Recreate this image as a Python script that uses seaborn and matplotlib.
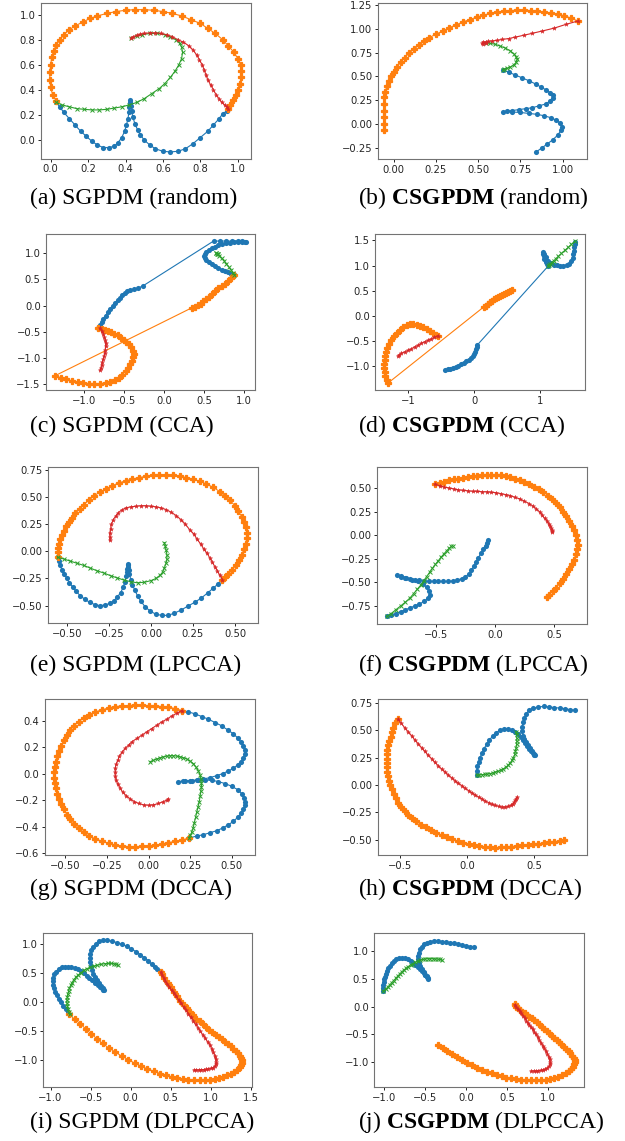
import matplotlib
matplotlib.use("Agg")
import matplotlib.pyplot as plt
import seaborn as sns

# * Latent trajectories (blue, orange, green, red per panel)
a_blue = [(0.03,0.30),(0.05,0.26),(0.07,0.22),(0.10,0.17),(0.13,0.12),(0.16,0.07),(0.19,0.03),(0.22,-0.01),(0.25,-0.04),(0.28,-0.06),(0.31,-0.06),(0.34,-0.05),(0.36,-0.02),(0.38,0.02),(0.395,0.07),(0.405,0.12),(0.413,0.17),(0.418,0.22),(0.421,0.26),(0.423,0.29),(0.425,0.32),(0.426,0.30),(0.428,0.27),(0.432,0.23),(0.44,0.18),(0.45,0.13),(0.465,0.08),(0.48,0.04),(0.50,0.0),(0.53,-0.04),(0.56,-0.07),(0.60,-0.09),(0.64,-0.095),(0.68,-0.09),(0.72,-0.07),(0.76,-0.03),(0.80,0.02),(0.84,0.07),(0.87,0.12),(0.90,0.17),(0.92,0.21),(0.94,0.23),(0.95,0.25)]
a_orange = [(0.03,0.31),(0.01,0.36),(0.0,0.42),(-0.005,0.48),(-0.005,0.54),(0.0,0.60),(0.005,0.66),(0.015,0.71),(0.03,0.76),(0.05,0.80),(0.07,0.84),(0.10,0.88),(0.13,0.91),(0.17,0.94),(0.21,0.97),(0.25,0.99),(0.30,1.01),(0.35,1.025),(0.40,1.035),(0.45,1.04),(0.50,1.04),(0.55,1.035),(0.60,1.025),(0.65,1.01),(0.70,0.99),(0.75,0.96),(0.80,0.93),(0.84,0.89),(0.88,0.85),(0.92,0.80),(0.95,0.75),(0.98,0.70),(1.0,0.65),(1.015,0.60),(1.02,0.55),(1.02,0.50),(1.01,0.45),(1.0,0.40),(0.99,0.36),(0.975,0.32),(0.96,0.28),(0.95,0.25)]
a_green = [(0.03,0.30),(0.06,0.28),(0.10,0.265),(0.14,0.25),(0.18,0.245),(0.22,0.24),(0.26,0.24),(0.30,0.245),(0.34,0.255),(0.38,0.265),(0.42,0.28),(0.46,0.30),(0.50,0.33),(0.54,0.37),(0.58,0.41),(0.61,0.45),(0.64,0.50),(0.665,0.55),(0.685,0.60),(0.70,0.65),(0.705,0.70),(0.70,0.74),(0.69,0.77),(0.67,0.80),(0.64,0.82),(0.61,0.84),(0.57,0.85),(0.53,0.85),(0.49,0.84),(0.46,0.83),(0.43,0.81)]
a_red = [(0.43,0.81),(0.44,0.825),(0.46,0.835),(0.48,0.845),(0.50,0.85),(0.53,0.855),(0.56,0.855),(0.59,0.85),(0.62,0.84),(0.65,0.825),(0.68,0.80),(0.71,0.78),(0.74,0.75),(0.76,0.72),(0.78,0.68),(0.795,0.64),(0.81,0.60),(0.82,0.56),(0.83,0.52),(0.84,0.48),(0.855,0.44),(0.87,0.40),(0.885,0.36),(0.90,0.33),(0.915,0.30),(0.93,0.28),(0.945,0.26),(0.95,0.25)]

b_blue = [(0.645,0.57),(0.68,0.545),(0.72,0.515),(0.76,0.485),(0.80,0.455),(0.84,0.42),(0.87,0.39),(0.90,0.36),(0.925,0.33),(0.94,0.30),(0.94,0.27),(0.925,0.24),(0.90,0.21),(0.86,0.19),(0.82,0.17),(0.78,0.16),(0.74,0.15),(0.70,0.14),(0.67,0.135),(0.645,0.13),(0.70,0.125),(0.75,0.12),(0.80,0.11),(0.85,0.10),(0.89,0.085),(0.93,0.065),(0.96,0.04),(0.985,0.01),(0.995,-0.03),(0.99,-0.07),(0.97,-0.12),(0.94,-0.17),(0.91,-0.21),(0.88,-0.25),(0.84,-0.30)]
b_orange = [(-0.06,-0.07),(-0.06,0.0),(-0.06,0.07),(-0.06,0.14),(-0.058,0.21),(-0.055,0.28),(-0.05,0.34),(-0.04,0.40),(-0.03,0.45),(-0.015,0.50),(0.0,0.55),(0.02,0.60),(0.04,0.65),(0.065,0.70),(0.09,0.745),(0.12,0.79),(0.15,0.83),(0.18,0.87),(0.21,0.91),(0.25,0.945),(0.29,0.98),(0.33,1.015),(0.37,1.045),(0.41,1.075),(0.45,1.10),(0.49,1.125),(0.53,1.145),(0.57,1.165),(0.61,1.18),(0.65,1.19),(0.69,1.195),(0.73,1.20),(0.77,1.20),(0.81,1.195),(0.85,1.19),(0.89,1.18),(0.93,1.17),(0.97,1.155),(1.01,1.14),(1.05,1.115),(1.09,1.085)]
b_green = [(0.545,0.85),(0.57,0.85),(0.60,0.84),(0.63,0.82),(0.66,0.80),(0.69,0.77),(0.71,0.74),(0.725,0.71),(0.73,0.68),(0.725,0.65),(0.71,0.62),(0.69,0.60),(0.67,0.585),(0.655,0.575),(0.645,0.57)]
b_red = [(1.09,1.085),(1.02,1.05),(0.95,1.01),(0.88,0.98),(0.82,0.955),(0.77,0.935),(0.72,0.915),(0.68,0.90),(0.64,0.89),(0.61,0.88),(0.58,0.875),(0.56,0.87),(0.545,0.865),(0.53,0.86),(0.525,0.85),(0.53,0.845),(0.545,0.85)]

c_blue = [(0.88,0.59),(0.84,0.61),(0.80,0.635),(0.76,0.66),(0.72,0.69),(0.68,0.72),(0.64,0.75),(0.60,0.79),(0.56,0.83),(0.53,0.87),(0.51,0.91),(0.505,0.95),(0.51,0.99),(0.53,1.03),(0.56,1.07),(0.60,1.10),(0.64,1.13),(0.68,1.155),(0.72,1.175),(0.77,1.19),(0.82,1.20),(0.87,1.21),(0.92,1.215),(0.97,1.22),(1.01,1.22),(1.02,1.225),(0.98,1.23),(0.92,1.235),(0.85,1.235),(0.77,1.235),(0.70,1.235),(0.62,1.235),(-0.26,0.38),(-0.33,0.33),(-0.38,0.31),(-0.42,0.29),(-0.46,0.27),(-0.49,0.24),(-0.52,0.20),(-0.55,0.15),(-0.58,0.10),(-0.61,0.05),(-0.64,0.0),(-0.67,-0.06),(-0.70,-0.12),(-0.73,-0.19),(-0.76,-0.26),(-0.78,-0.32),(-0.80,-0.37),(-0.82,-0.42)]
c_orange = [(-0.82,-0.42),(-0.78,-0.44),(-0.74,-0.46),(-0.70,-0.48),(-0.66,-0.51),(-0.62,-0.54),(-0.58,-0.57),(-0.54,-0.61),(-0.50,-0.65),(-0.47,-0.69),(-0.44,-0.74),(-0.41,-0.80),(-0.39,-0.86),(-0.38,-0.92),(-0.385,-0.98),(-0.40,-1.05),(-0.42,-1.12),(-0.45,-1.19),(-0.48,-1.26),(-0.52,-1.32),(-0.56,-1.38),(-0.61,-1.43),(-0.67,-1.46),(-0.73,-1.48),(-0.80,-1.49),(-0.87,-1.49),(-0.94,-1.49),(-1.01,-1.48),(-1.08,-1.46),(-1.15,-1.44),(-1.22,-1.41),(-1.29,-1.38),(-1.36,-1.34),(0.35,-0.04),(0.39,-0.02),(0.43,0.01),(0.46,0.04),(0.49,0.08),(0.52,0.12),(0.56,0.17),(0.60,0.22),(0.64,0.28),(0.68,0.33),(0.72,0.38),(0.76,0.42),(0.80,0.47),(0.84,0.52),(0.88,0.58)]
c_green = [(0.88,0.59),(0.86,0.63),(0.84,0.68),(0.81,0.74),(0.78,0.80),(0.75,0.86),(0.72,0.91),(0.69,0.95),(0.67,0.98),(0.655,1.0),(0.65,1.0),(0.66,0.99),(0.68,0.99)]
c_red = [(-0.80,-0.43),(-0.78,-0.48),(-0.76,-0.54),(-0.745,-0.60),(-0.735,-0.66),(-0.73,-0.72),(-0.73,-0.78),(-0.735,-0.84),(-0.74,-0.90),(-0.75,-0.96),(-0.76,-1.02),(-0.77,-1.08),(-0.78,-1.14),(-0.79,-1.19),(-0.80,-1.24)]

d_blue = [(-0.44,-1.08),(-0.40,-1.07),(-0.36,-1.06),(-0.32,-1.04),(-0.28,-1.02),(-0.24,-1.00),(-0.20,-0.97),(-0.16,-0.94),(-0.12,-0.91),(-0.08,-0.88),(-0.05,-0.85),(-0.02,-0.81),(0.0,-0.77),(0.02,-0.72),(0.03,-0.67),(0.04,-0.62),(0.05,-0.58),(1.12,0.99),(1.10,1.03),(1.08,1.08),(1.06,1.13),(1.05,1.18),(1.04,1.23),(1.04,1.27),(1.06,1.22),(1.09,1.16),(1.12,1.10),(1.16,1.05),(1.20,1.02),(1.25,1.01),(1.30,1.00),(1.35,1.00),(1.40,1.01),(1.44,1.04),(1.47,1.09),(1.49,1.15),(1.50,1.22),(1.51,1.29),(1.515,1.36),(1.52,1.42),(1.52,1.47)]
d_orange = [(0.57,0.52),(0.54,0.50),(0.51,0.48),(0.48,0.46),(0.45,0.44),(0.42,0.42),(0.39,0.40),(0.36,0.38),(0.33,0.36),(0.30,0.33),(0.27,0.30),(0.24,0.27),(0.21,0.23),(0.18,0.20),(0.15,0.18),(-1.30,-1.34),(-1.32,-1.28),(-1.34,-1.20),(-1.35,-1.12),(-1.355,-1.04),(-1.355,-0.96),(-1.35,-0.88),(-1.34,-0.80),(-1.33,-0.72),(-1.31,-0.64),(-1.28,-0.56),(-1.25,-0.48),(-1.21,-0.41),(-1.17,-0.34),(-1.12,-0.28),(-1.07,-0.23),(-1.02,-0.19),(-0.97,-0.17),(-0.92,-0.17),(-0.87,-0.18),(-0.82,-0.20),(-0.77,-0.23),(-0.72,-0.26),(-0.67,-0.30),(-0.62,-0.34),(-0.57,-0.38),(-0.55,-0.40)]
d_green = [(1.52,1.48),(1.47,1.42),(1.42,1.36),(1.37,1.30),(1.32,1.24),(1.27,1.18),(1.23,1.13),(1.20,1.09),(1.17,1.06),(1.15,1.03),(1.13,1.01),(1.12,1.0)]
d_red = [(-0.55,-0.40),(-0.60,-0.43),(-0.65,-0.46),(-0.70,-0.49),(-0.75,-0.52),(-0.80,-0.55),(-0.85,-0.59),(-0.90,-0.62),(-0.95,-0.66),(-1.00,-0.69),(-1.05,-0.72),(-1.10,-0.75),(-1.13,-0.78),(-1.15,-0.80)]

e_blue = [(-0.556,-0.055),(-0.55,-0.09),(-0.54,-0.13),(-0.53,-0.17),(-0.515,-0.21),(-0.50,-0.25),(-0.485,-0.29),(-0.465,-0.33),(-0.445,-0.37),(-0.42,-0.41),(-0.395,-0.44),(-0.365,-0.47),(-0.335,-0.49),(-0.305,-0.50),(-0.275,-0.495),(-0.245,-0.48),(-0.22,-0.455),(-0.20,-0.42),(-0.18,-0.38),(-0.165,-0.33),(-0.155,-0.28),(-0.148,-0.23),(-0.143,-0.19),(-0.14,-0.16),(-0.138,-0.13),(-0.137,-0.12),(-0.135,-0.14),(-0.132,-0.17),(-0.128,-0.21),(-0.12,-0.26),(-0.11,-0.31),(-0.095,-0.36),(-0.08,-0.41),(-0.06,-0.46),(-0.035,-0.51),(-0.005,-0.55),(0.03,-0.58),(0.065,-0.59),(0.10,-0.59),(0.14,-0.57),(0.18,-0.54),(0.22,-0.505),(0.26,-0.47),(0.30,-0.43),(0.34,-0.38),(0.37,-0.34),(0.40,-0.30),(0.425,-0.26)]
e_orange = [(-0.556,-0.055),(-0.555,-0.01),(-0.553,0.03),(-0.548,0.07),(-0.54,0.11),(-0.53,0.15),(-0.52,0.19),(-0.505,0.23),(-0.49,0.27),(-0.47,0.31),(-0.45,0.35),(-0.425,0.39),(-0.40,0.43),(-0.37,0.47),(-0.34,0.51),(-0.305,0.545),(-0.27,0.575),(-0.23,0.605),(-0.19,0.63),(-0.15,0.65),(-0.11,0.665),(-0.07,0.68),(-0.03,0.69),(0.01,0.70),(0.05,0.705),(0.09,0.705),(0.13,0.70),(0.17,0.69),(0.21,0.68),(0.25,0.665),(0.29,0.645),(0.33,0.62),(0.37,0.59),(0.41,0.55),(0.44,0.51),(0.47,0.47),(0.50,0.42),(0.52,0.37),(0.54,0.32),(0.555,0.27),(0.565,0.22),(0.57,0.17),(0.57,0.12),(0.565,0.07),(0.555,0.02),(0.54,-0.03),(0.525,-0.08),(0.505,-0.13),(0.485,-0.17),(0.46,-0.21),(0.44,-0.24),(0.425,-0.26)]
e_green = [(-0.556,-0.055),(-0.52,-0.07),(-0.48,-0.09),(-0.44,-0.11),(-0.40,-0.13),(-0.36,-0.155),(-0.32,-0.18),(-0.28,-0.20),(-0.24,-0.225),(-0.20,-0.245),(-0.16,-0.265),(-0.12,-0.28),(-0.08,-0.29),(-0.04,-0.285),(0.0,-0.27),(0.03,-0.25),(0.055,-0.22),(0.07,-0.19),(0.08,-0.15),(0.09,-0.11),(0.095,-0.07),(0.095,-0.03),(0.09,0.01),(0.085,0.05),(0.08,0.08)]
e_red = [(0.425,-0.26),(0.41,-0.22),(0.395,-0.18),(0.38,-0.14),(0.365,-0.10),(0.35,-0.06),(0.335,-0.02),(0.315,0.02),(0.295,0.07),(0.275,0.11),(0.255,0.16),(0.23,0.20),(0.205,0.25),(0.18,0.29),(0.15,0.33),(0.12,0.36),(0.09,0.385),(0.06,0.40),(0.03,0.41),(0.0,0.415),(-0.03,0.42),(-0.06,0.42),(-0.09,0.415),(-0.12,0.41),(-0.15,0.40),(-0.175,0.38),(-0.195,0.355),(-0.21,0.325),(-0.225,0.29),(-0.235,0.25),(-0.24,0.21),(-0.245,0.17),(-0.245,0.13),(-0.245,0.10)]

f_blue = [(-0.915,-0.86),(-0.88,-0.845),(-0.84,-0.83),(-0.80,-0.81),(-0.76,-0.79),(-0.72,-0.77),(-0.68,-0.75),(-0.64,-0.73),(-0.60,-0.70),(-0.57,-0.67),(-0.555,-0.63),(-0.56,-0.59),(-0.58,-0.55),(-0.61,-0.52),(-0.65,-0.49),(-0.70,-0.47),(-0.75,-0.45),(-0.80,-0.435),(-0.83,-0.425),(-0.80,-0.44),(-0.76,-0.455),(-0.72,-0.465),(-0.68,-0.475),(-0.64,-0.48),(-0.60,-0.485),(-0.56,-0.49),(-0.52,-0.49),(-0.48,-0.49),(-0.44,-0.49),(-0.40,-0.49),(-0.36,-0.485),(-0.32,-0.475),(-0.28,-0.46),(-0.25,-0.44),(-0.22,-0.41),(-0.20,-0.37),(-0.18,-0.33),(-0.16,-0.28),(-0.14,-0.24),(-0.12,-0.19),(-0.10,-0.15),(-0.08,-0.11),(-0.065,-0.08),(-0.055,-0.05)]
f_orange = [(-0.51,0.54),(-0.47,0.555),(-0.43,0.565),(-0.39,0.58),(-0.35,0.59),(-0.31,0.60),(-0.27,0.61),(-0.23,0.62),(-0.19,0.625),(-0.15,0.63),(-0.11,0.635),(-0.07,0.64),(-0.03,0.64),(0.01,0.64),(0.05,0.635),(0.09,0.63),(0.13,0.615),(0.17,0.60),(0.21,0.585),(0.25,0.56),(0.29,0.54),(0.33,0.515),(0.37,0.485),(0.41,0.455),(0.45,0.42),(0.485,0.38),(0.52,0.34),(0.55,0.295),(0.58,0.25),(0.605,0.20),(0.63,0.15),(0.65,0.10),(0.67,0.05),(0.685,0.0),(0.695,-0.05),(0.70,-0.10),(0.695,-0.15),(0.685,-0.20),(0.67,-0.26),(0.65,-0.31),(0.63,-0.36),(0.605,-0.41),(0.58,-0.46),(0.55,-0.51),(0.52,-0.555),(0.49,-0.595),(0.46,-0.63),(0.44,-0.65)]
f_green = [(-0.915,-0.86),(-0.88,-0.83),(-0.84,-0.79),(-0.80,-0.75),(-0.76,-0.71),(-0.72,-0.665),(-0.69,-0.62),(-0.66,-0.575),(-0.63,-0.53),(-0.605,-0.485),(-0.58,-0.44),(-0.555,-0.395),(-0.53,-0.35),(-0.505,-0.31),(-0.48,-0.27),(-0.455,-0.23),(-0.43,-0.195),(-0.41,-0.165),(-0.39,-0.14),(-0.37,-0.12),(-0.36,-0.11)]
f_red = [(-0.51,0.54),(-0.47,0.525),(-0.43,0.51),(-0.39,0.50),(-0.35,0.49),(-0.31,0.48),(-0.27,0.475),(-0.23,0.47),(-0.19,0.465),(-0.15,0.465),(-0.11,0.46),(-0.07,0.46),(-0.03,0.455),(0.01,0.45),(0.05,0.44),(0.09,0.43),(0.13,0.42),(0.17,0.40),(0.21,0.385),(0.25,0.36),(0.29,0.335),(0.32,0.31),(0.35,0.28),(0.38,0.245),(0.40,0.21),(0.42,0.18),(0.44,0.15),(0.455,0.12),(0.465,0.10),(0.475,0.08),(0.48,0.06),(0.485,0.045),(0.485,0.035)]

g_blue = [(0.20,0.475),(0.24,0.465),(0.28,0.45),(0.32,0.43),(0.36,0.41),(0.40,0.385),(0.44,0.36),(0.475,0.33),(0.51,0.30),(0.535,0.27),(0.555,0.24),(0.57,0.21),(0.578,0.18),(0.578,0.15),(0.57,0.12),(0.555,0.09),(0.535,0.065),(0.51,0.04),(0.48,0.02),(0.445,0.0),(0.41,-0.015),(0.37,-0.03),(0.33,-0.04),(0.29,-0.048),(0.25,-0.055),(0.21,-0.058),(0.18,-0.06),(0.22,-0.055),(0.26,-0.052),(0.30,-0.05),(0.34,-0.048),(0.38,-0.05),(0.42,-0.06),(0.46,-0.075),(0.50,-0.095),(0.535,-0.12),(0.56,-0.15),(0.575,-0.18),(0.58,-0.21),(0.578,-0.24),(0.57,-0.27),(0.555,-0.30),(0.535,-0.33),(0.51,-0.36),(0.48,-0.385),(0.445,-0.41),(0.41,-0.43),(0.37,-0.445),(0.33,-0.46),(0.29,-0.47),(0.245,-0.485)]
g_orange = [(0.20,0.475),(0.16,0.49),(0.12,0.50),(0.08,0.505),(0.04,0.51),(0.0,0.513),(-0.04,0.515),(-0.08,0.515),(-0.12,0.513),(-0.16,0.51),(-0.20,0.505),(-0.24,0.495),(-0.28,0.48),(-0.32,0.465),(-0.36,0.445),(-0.39,0.42),(-0.42,0.39),(-0.45,0.36),(-0.47,0.325),(-0.49,0.29),(-0.51,0.25),(-0.525,0.21),(-0.54,0.17),(-0.55,0.13),(-0.558,0.09),(-0.563,0.05),(-0.566,0.01),(-0.566,-0.03),(-0.563,-0.07),(-0.557,-0.11),(-0.548,-0.15),(-0.537,-0.19),(-0.523,-0.23),(-0.507,-0.27),(-0.49,-0.31),(-0.47,-0.345),(-0.445,-0.38),(-0.42,-0.41),(-0.39,-0.44),(-0.36,-0.47),(-0.32,-0.49),(-0.28,-0.51),(-0.24,-0.525),(-0.20,-0.54),(-0.16,-0.545),(-0.12,-0.55),(-0.08,-0.55),(-0.04,-0.548),(0.0,-0.545),(0.04,-0.54),(0.08,-0.53),(0.12,-0.52),(0.16,-0.51),(0.20,-0.50),(0.245,-0.485)]
g_green = [(0.01,0.09),(0.03,0.10),(0.05,0.11),(0.07,0.12),(0.09,0.127),(0.11,0.132),(0.13,0.135),(0.15,0.135),(0.17,0.132),(0.19,0.127),(0.21,0.12),(0.23,0.11),(0.25,0.095),(0.27,0.075),(0.285,0.05),(0.30,0.02),(0.31,-0.01),(0.315,-0.04),(0.318,-0.07),(0.318,-0.10),(0.315,-0.13),(0.31,-0.17),(0.305,-0.21),(0.298,-0.25),(0.29,-0.29),(0.283,-0.33),(0.275,-0.37),(0.268,-0.41),(0.26,-0.44),(0.252,-0.465),(0.245,-0.485)]
g_red = [(0.20,0.475),(0.17,0.455),(0.14,0.435),(0.11,0.41),(0.08,0.39),(0.05,0.365),(0.02,0.34),(-0.01,0.315),(-0.04,0.29),(-0.07,0.265),(-0.10,0.24),(-0.12,0.215),(-0.14,0.19),(-0.16,0.16),(-0.175,0.13),(-0.185,0.10),(-0.195,0.07),(-0.2,0.04),(-0.2,0.01),(-0.2,-0.02),(-0.195,-0.05),(-0.185,-0.08),(-0.17,-0.11),(-0.155,-0.14),(-0.135,-0.165),(-0.11,-0.19),(-0.085,-0.21),(-0.06,-0.225),(-0.03,-0.235),(0.0,-0.238),(0.03,-0.235),(0.06,-0.225),(0.09,-0.21),(0.11,-0.20),(0.12,-0.19)]

h_blue = [(0.07,0.09),(0.07,0.13),(0.075,0.17),(0.085,0.21),(0.095,0.25),(0.11,0.29),(0.125,0.33),(0.145,0.37),(0.165,0.41),(0.19,0.445),(0.215,0.475),(0.245,0.50),(0.275,0.51),(0.305,0.51),(0.335,0.50),(0.36,0.485),(0.38,0.465),(0.40,0.44),(0.415,0.41),(0.43,0.38),(0.445,0.355),(0.46,0.33),(0.475,0.31),(0.49,0.29),(0.50,0.275),(0.505,0.27),(0.495,0.285),(0.48,0.31),(0.465,0.335),(0.45,0.36),(0.435,0.39),(0.425,0.42),(0.415,0.45),(0.41,0.49),(0.41,0.53),(0.415,0.57),(0.425,0.61),(0.44,0.645),(0.46,0.68),(0.49,0.70),(0.53,0.71),(0.57,0.715),(0.61,0.71),(0.65,0.705),(0.69,0.70),(0.73,0.695),(0.77,0.685),(0.80,0.68)]
h_orange = [(-0.515,0.60),(-0.535,0.56),(-0.55,0.52),(-0.56,0.48),(-0.57,0.44),(-0.58,0.40),(-0.588,0.36),(-0.594,0.32),(-0.598,0.28),(-0.60,0.24),(-0.60,0.20),(-0.6,0.16),(-0.598,0.12),(-0.593,0.08),(-0.585,0.04),(-0.575,0.0),(-0.562,-0.04),(-0.548,-0.08),(-0.532,-0.12),(-0.513,-0.16),(-0.49,-0.20),(-0.465,-0.235),(-0.44,-0.27),(-0.41,-0.30),(-0.38,-0.33),(-0.345,-0.36),(-0.31,-0.385),(-0.27,-0.41),(-0.23,-0.435),(-0.19,-0.455),(-0.15,-0.475),(-0.11,-0.495),(-0.07,-0.51),(-0.03,-0.525),(0.01,-0.54),(0.05,-0.55),(0.09,-0.558),(0.13,-0.565),(0.17,-0.568),(0.21,-0.57),(0.25,-0.568),(0.29,-0.565),(0.33,-0.56),(0.37,-0.555),(0.41,-0.55),(0.45,-0.545),(0.49,-0.54),(0.53,-0.535),(0.57,-0.528),(0.61,-0.52),(0.65,-0.515),(0.69,-0.51),(0.72,-0.505)]
h_green = [(0.07,0.09),(0.09,0.092),(0.11,0.094),(0.13,0.097),(0.15,0.10),(0.17,0.104),(0.19,0.11),(0.21,0.117),(0.23,0.125),(0.25,0.135),(0.27,0.148),(0.29,0.163),(0.305,0.18),(0.32,0.20),(0.335,0.225),(0.345,0.25),(0.355,0.28),(0.36,0.31),(0.365,0.34),(0.368,0.37),(0.37,0.40),(0.37,0.43),(0.368,0.46),(0.365,0.485)]
h_red = [(-0.515,0.60),(-0.49,0.56),(-0.465,0.52),(-0.44,0.485),(-0.415,0.45),(-0.39,0.41),(-0.365,0.375),(-0.34,0.34),(-0.315,0.305),(-0.29,0.27),(-0.265,0.24),(-0.24,0.205),(-0.215,0.175),(-0.19,0.145),(-0.165,0.12),(-0.14,0.09),(-0.115,0.065),(-0.09,0.04),(-0.065,0.015),(-0.04,-0.005),(-0.015,-0.03),(0.01,-0.05),(0.035,-0.07),(0.06,-0.09),(0.085,-0.11),(0.11,-0.125),(0.135,-0.145),(0.16,-0.16),(0.185,-0.175),(0.21,-0.185),(0.235,-0.195),(0.26,-0.2),(0.285,-0.2),(0.305,-0.195),(0.325,-0.185),(0.34,-0.17),(0.35,-0.155),(0.36,-0.14),(0.365,-0.125),(0.37,-0.11)]

i_blue = [(-0.78,-0.16),(-0.81,-0.11),(-0.84,-0.06),(-0.87,0.0),(-0.90,0.06),(-0.925,0.12),(-0.945,0.18),(-0.96,0.24),(-0.97,0.30),(-0.975,0.36),(-0.97,0.42),(-0.955,0.48),(-0.93,0.53),(-0.90,0.57),(-0.86,0.60),(-0.82,0.61),(-0.78,0.615),(-0.74,0.61),(-0.70,0.595),(-0.66,0.57),(-0.62,0.54),(-0.585,0.50),(-0.55,0.46),(-0.515,0.42),(-0.48,0.38),(-0.445,0.34),(-0.41,0.30),(-0.38,0.27),(-0.355,0.24),(-0.34,0.22),(-0.33,0.21),(-0.345,0.24),(-0.365,0.28),(-0.39,0.33),(-0.415,0.38),(-0.44,0.43),(-0.465,0.49),(-0.485,0.55),(-0.50,0.62),(-0.51,0.69),(-0.51,0.76),(-0.505,0.83),(-0.49,0.90),(-0.465,0.96),(-0.43,1.01),(-0.39,1.05),(-0.34,1.07),(-0.29,1.07),(-0.23,1.05),(-0.17,1.03),(-0.11,1.0),(-0.05,0.965),(0.01,0.92),(0.07,0.87),(0.12,0.82),(0.17,0.77),(0.22,0.715),(0.26,0.66),(0.30,0.61),(0.33,0.57),(0.36,0.54),(0.375,0.52)]
i_orange = [(-0.77,-0.21),(-0.70,-0.29),(-0.63,-0.37),(-0.56,-0.46),(-0.49,-0.55),(-0.42,-0.63),(-0.35,-0.71),(-0.27,-0.79),(-0.19,-0.86),(-0.11,-0.93),(-0.03,-0.99),(0.05,-1.05),(0.13,-1.10),(0.21,-1.15),(0.29,-1.19),(0.37,-1.23),(0.44,-1.26),(0.51,-1.285),(0.58,-1.31),(0.65,-1.325),(0.72,-1.335),(0.79,-1.34),(0.86,-1.345),(0.93,-1.34),(0.99,-1.335),(1.05,-1.32),(1.10,-1.30),(1.15,-1.28),(1.20,-1.26),(1.25,-1.23),(1.29,-1.20),(1.33,-1.16),(1.36,-1.12),(1.38,-1.08),(1.39,-1.04),(1.39,-1.00),(1.38,-0.96),(1.36,-0.92),(1.34,-0.88),(1.31,-0.84),(1.28,-0.80),(1.25,-0.76),(1.22,-0.72),(1.18,-0.68),(1.14,-0.64),(1.10,-0.60),(1.06,-0.56),(1.02,-0.52),(0.98,-0.48),(0.94,-0.43),(0.90,-0.38),(0.86,-0.33),(0.82,-0.28),(0.78,-0.22),(0.74,-0.16),(0.70,-0.10),(0.66,-0.04),(0.62,0.03),(0.58,0.10),(0.54,0.18),(0.50,0.26),(0.46,0.34),(0.42,0.42),(0.39,0.48),(0.375,0.52)]
i_green = [(-0.76,-0.21),(-0.775,-0.16),(-0.785,-0.11),(-0.79,-0.06),(-0.795,-0.01),(-0.795,0.04),(-0.79,0.09),(-0.785,0.14),(-0.775,0.19),(-0.765,0.24),(-0.75,0.29),(-0.73,0.34),(-0.71,0.39),(-0.685,0.43),(-0.655,0.47),(-0.62,0.51),(-0.585,0.55),(-0.545,0.58),(-0.505,0.605),(-0.46,0.625),(-0.415,0.64),(-0.37,0.655),(-0.325,0.665),(-0.28,0.67),(-0.24,0.67),(-0.21,0.665),(-0.18,0.655),(-0.16,0.645)]
i_red = [(0.375,0.52),(0.39,0.47),(0.41,0.42),(0.43,0.37),(0.455,0.32),(0.48,0.27),(0.51,0.21),(0.54,0.16),(0.57,0.10),(0.60,0.04),(0.63,-0.02),(0.66,-0.08),(0.69,-0.14),(0.72,-0.20),(0.75,-0.26),(0.78,-0.32),(0.81,-0.38),(0.84,-0.44),(0.87,-0.50),(0.90,-0.56),(0.93,-0.62),(0.96,-0.68),(0.99,-0.74),(1.01,-0.80),(1.03,-0.86),(1.05,-0.92),(1.06,-0.98),(1.065,-1.03),(1.06,-1.07),(1.05,-1.10),(1.03,-1.125),(1.0,-1.14),(0.97,-1.15),(0.94,-1.155),(0.91,-1.16),(0.88,-1.16),(0.85,-1.165),(0.82,-1.165),(0.79,-1.165)]

j_blue = [(-1.01,0.29),(-1.01,0.34),(-1.01,0.39),(-1.005,0.44),(-1.0,0.49),(-0.99,0.54),(-0.98,0.59),(-0.965,0.64),(-0.95,0.69),(-0.93,0.74),(-0.91,0.78),(-0.885,0.82),(-0.855,0.85),(-0.82,0.87),(-0.785,0.875),(-0.75,0.87),(-0.715,0.85),(-0.68,0.82),(-0.65,0.79),(-0.62,0.755),(-0.595,0.72),(-0.57,0.685),(-0.545,0.65),(-0.52,0.61),(-0.50,0.575),(-0.485,0.545),(-0.47,0.52),(-0.465,0.50),(-0.48,0.53),(-0.50,0.57),(-0.52,0.62),(-0.54,0.67),(-0.56,0.73),(-0.575,0.79),(-0.585,0.85),(-0.585,0.91),(-0.58,0.97),(-0.565,1.03),(-0.545,1.08),(-0.515,1.12),(-0.48,1.15),(-0.44,1.17),(-0.40,1.18),(-0.35,1.18),(-0.30,1.17),(-0.25,1.16),(-0.20,1.15),(-0.15,1.14),(-0.10,1.125),(-0.05,1.11),(0.0,1.095),(0.05,1.08),(0.09,1.065)]
j_orange = [(-0.35,-0.69),(-0.29,-0.74),(-0.23,-0.80),(-0.17,-0.86),(-0.11,-0.91),(-0.05,-0.96),(0.01,-1.01),(0.07,-1.05),(0.13,-1.10),(0.19,-1.14),(0.25,-1.17),(0.31,-1.20),(0.37,-1.23),(0.43,-1.255),(0.49,-1.275),(0.55,-1.29),(0.61,-1.305),(0.67,-1.315),(0.73,-1.32),(0.79,-1.325),(0.85,-1.325),(0.91,-1.32),(0.97,-1.31),(1.02,-1.30),(1.07,-1.28),(1.12,-1.26),(1.17,-1.23),(1.21,-1.20),(1.25,-1.16),(1.28,-1.12),(1.30,-1.08),(1.315,-1.04),(1.32,-1.00),(1.32,-0.96),(1.31,-0.92),(1.29,-0.88),(1.27,-0.84),(1.25,-0.80),(1.22,-0.76),(1.19,-0.72),(1.16,-0.68),(1.13,-0.64),(1.10,-0.60),(1.07,-0.56),(1.04,-0.52),(1.01,-0.48),(0.98,-0.44),(0.95,-0.40),(0.92,-0.36),(0.89,-0.32),(0.86,-0.28),(0.83,-0.245),(0.80,-0.21),(0.77,-0.18),(0.74,-0.15),(0.71,-0.12),(0.68,-0.09),(0.65,-0.06),(0.63,-0.03),(0.61,0.0),(0.595,0.025),(0.59,0.04)]
j_green = [(-1.01,0.28),(-0.985,0.31),(-0.96,0.35),(-0.935,0.39),(-0.91,0.43),(-0.885,0.47),(-0.86,0.51),(-0.835,0.55),(-0.81,0.59),(-0.785,0.63),(-0.76,0.66),(-0.735,0.69),(-0.71,0.72),(-0.68,0.75),(-0.65,0.775),(-0.62,0.80),(-0.59,0.82),(-0.56,0.835),(-0.53,0.85),(-0.50,0.86),(-0.47,0.865),(-0.44,0.865),(-0.41,0.865),(-0.38,0.86),(-0.35,0.855),(-0.32,0.85),(-0.30,0.845)]
j_red = [(0.59,0.035),(0.61,0.0),(0.63,-0.04),(0.65,-0.08),(0.67,-0.12),(0.69,-0.16),(0.71,-0.20),(0.73,-0.25),(0.75,-0.29),(0.77,-0.33),(0.79,-0.37),(0.81,-0.41),(0.83,-0.46),(0.85,-0.50),(0.87,-0.55),(0.89,-0.60),(0.91,-0.65),(0.93,-0.70),(0.95,-0.75),(0.97,-0.80),(0.99,-0.85),(1.005,-0.90),(1.015,-0.95),(1.02,-1.0),(1.02,-1.04),(1.01,-1.07),(0.99,-1.10),(0.965,-1.12),(0.94,-1.135),(0.91,-1.145),(0.88,-1.15),(0.85,-1.155),(0.82,-1.155),(0.79,-1.155)]

# * Captions and tick values per panel
captions = ["(a) SGPDM (random)", "(b) $\\mathbf{CSGPDM}$ (random)",
            "(c) SGPDM (CCA)", "(d) $\\mathbf{CSGPDM}$ (CCA)",
            "(e) SGPDM (LPCCA)", "(f) $\\mathbf{CSGPDM}$ (LPCCA)",
            "(g) SGPDM (DCCA)", "(h) $\\mathbf{CSGPDM}$ (DCCA)",
            "(i) SGPDM (DLPCCA)", "(j) $\\mathbf{CSGPDM}$ (DLPCCA)"]
xticks = [[0.0, 0.2, 0.4, 0.6, 0.8, 1.0], [0.0, 0.25, 0.5, 0.75, 1.0],
          [-1.0, -0.5, 0.0, 0.5, 1.0], [-1, 0, 1],
          [-0.5, -0.25, 0.0, 0.25, 0.5], [-0.5, 0.0, 0.5],
          [-0.5, -0.25, 0.0, 0.25, 0.5], [-0.5, 0.0, 0.5],
          [-1.0, -0.5, 0.0, 0.5, 1.0, 1.5], [-1.0, -0.5, 0.0, 0.5, 1.0]]
yticks = [[0.0, 0.2, 0.4, 0.6, 0.8, 1.0], [-0.25, 0.0, 0.25, 0.5, 0.75, 1.0, 1.25],
          [-1.5, -1.0, -0.5, 0.0, 0.5, 1.0], [-1.0, -0.5, 0.0, 0.5, 1.0, 1.5],
          [-0.5, -0.25, 0.0, 0.25, 0.5, 0.75], [-0.75, -0.5, -0.25, 0.0, 0.25, 0.5],
          [-0.6, -0.4, -0.2, 0.0, 0.2, 0.4], [-0.5, -0.25, 0.0, 0.25, 0.5, 0.75],
          [-1.0, -0.5, 0.0, 0.5, 1.0], [-1.0, -0.5, 0.0, 0.5, 1.0]]
curves = [(a_blue, a_orange, a_green, a_red), (b_blue, b_orange, b_green, b_red),
          (c_blue, c_orange, c_green, c_red), (d_blue, d_orange, d_green, d_red),
          (e_blue, e_orange, e_green, e_red), (f_blue, f_orange, f_green, f_red),
          (g_blue, g_orange, g_green, g_red), (h_blue, h_orange, h_green, h_red),
          (i_blue, i_orange, i_green, i_red), (j_blue, j_orange, j_green, j_red)]

# * Layout (pixels of a 625x1141 canvas): axes box and view limits
boxes = [(41, 251, 3, 158.7), (377.7, 587, 3, 159.3),
         (46.3, 255, 234.3, 390), (375.3, 585.3, 234.3, 390),
         (48.3, 258.3, 467.3, 623.3), (377, 587, 467.3, 624),
         (45, 255, 699.3, 855), (377.7, 587, 699.3, 855),
         (43.3, 251.7, 932.7, 1087.3), (374.3, 584.3, 932.7, 1087.3)]
xlims = [(-0.052, 1.071), (-0.095, 1.144), (-1.471, 1.1375), (-1.494, 1.68),
         (-0.611, 0.639), (-1.0, 0.78), (-0.622, 0.64), (-0.667, 0.893),
         (-1.09, 1.51), (-1.122, 1.439)]
ylims = [(-0.149, 1.093), (-0.374, 1.275), (-1.614, 1.364), (-1.48, 1.622),
         (-0.663, 0.774), (-0.941, 0.719), (-0.613, 0.56), (-0.637, 0.78),
         (-1.466, 1.20), (-1.45, 1.33)]
caption_y = [198, 198, 426, 426, 665, 665, 889, 889, 1122, 1122]

plt.rcParams["mathtext.fontset"] = "custom"
plt.rcParams["mathtext.rm"] = "Liberation Serif"
plt.rcParams["mathtext.bf"] = "Liberation Serif:bold"

W, H = 625, 1141
fig = plt.figure(figsize=(W / 100, H / 100), dpi=100)

# * blue dots, orange filled plus, green x, red star (tab10 order)
styles = [("#1f77b4", "o", 3.7, 0.0), ("#ff7f0e", "P", 4.4, 0.9),
          ("#2ca02c", "x", 3.2, 0.7), ("#d62728", "*", 3.2, 0.3)]

for k in range(10):
    L, R, T, B = boxes[k]
    ax = fig.add_axes([L / W, 1 - B / H, (R - L) / W, (B - T) / H])
    for pts, (col, mk, ms, mew) in zip(curves[k], styles):
        xs = [p[0] for p in pts]
        ys = [p[1] for p in pts]
        sns.lineplot(x=xs, y=ys, sort=False, estimator=None, ax=ax, color=col,
                     marker=mk, markersize=ms, markeredgecolor=col,
                     markeredgewidth=mew, linewidth=0.8)
    ax.set_xlim(*xlims[k])
    ax.set_ylim(*ylims[k])
    ax.set_xticks(xticks[k])
    ax.set_yticks(yticks[k])
    ax.tick_params(labelsize=7.2, length=2.5, width=0.6, pad=1.5, labelcolor="0.15")
    for sp in ax.spines.values():
        sp.set_color("0.45")
        sp.set_linewidth(0.8)
    cx = 30 if k % 2 == 0 else 358
    fig.text(cx / W, 1 - caption_y[k] / H, captions[k], fontsize=17,
             family="Liberation Serif", ha="left", va="center")

fig.savefig("out.png", dpi=100)
